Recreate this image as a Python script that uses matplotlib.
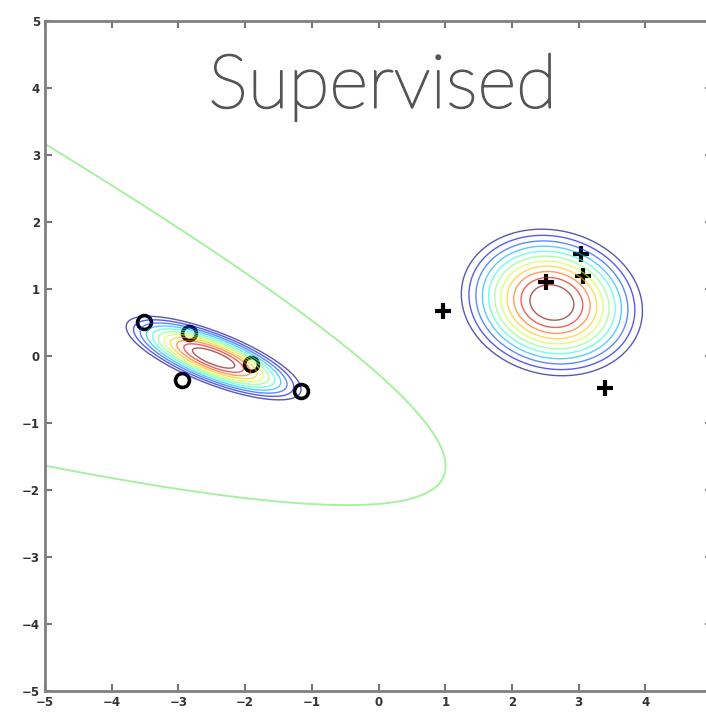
import numpy as np
import matplotlib
matplotlib.use('Agg')
import matplotlib.pyplot as plt
import matplotlib.patheffects as pe

# labelled points
circle_x = [-3.51, -2.84, -2.94, -1.91, -1.16]
circle_y = [0.51, 0.34, -0.36, -0.12, -0.52]
plus_x = [0.97, 2.51, 3.04, 3.07, 3.40]
plus_y = [0.67, 1.10, 1.52, 1.19, -0.48]
xticks = [-5, -4, -3, -2, -1, 0, 1, 2, 3, 4]
yticks = [-5, -4, -3, -2, -1, 0, 1, 2, 3, 4, 5]


def fit_gauss(xs, ys):
    pts = np.column_stack([xs, ys])
    return pts.mean(axis=0), np.cov(pts.T, bias=True)


def log_pdf(X, Y, mu, cov):
    inv = np.linalg.inv(cov)
    dx = X - mu[0]
    dy = Y - mu[1]
    d2 = inv[0, 0] * dx * dx + 2 * inv[0, 1] * dx * dy + inv[1, 1] * dy * dy
    return -0.5 * d2 - 0.5 * np.log(np.linalg.det(cov)) - np.log(2 * np.pi)


gx = np.linspace(-5, 5, 600)
X, Y = np.meshgrid(gx, gx)

mu1, cov1 = fit_gauss(circle_x, circle_y)
mu2, cov2 = fit_gauss(plus_x, plus_y)
lp1 = log_pdf(X, Y, mu1, cov1)
lp2 = log_pdf(X, Y, mu2, cov2)

fig = plt.figure(figsize=(7.06, 7.18), dpi=100)
ax = fig.add_axes([0.0637, 0.0376, 0.945, 0.933])

ax.plot(circle_x, circle_y, 'o', ms=10, mfc='none', mec='black', mew=2.6, zorder=2)
ax.plot(plus_x, plus_y, '+', ms=11, color='black', mew=3, zorder=2)

for lp in (lp1, lp2):
    p = np.exp(lp)
    levels = np.linspace(0.29, 0.93, 11) * p.max()
    ax.contour(X, Y, p, levels=levels, cmap='jet', linewidths=1.0,
               alpha=0.65, zorder=3)

# decision boundary where both class densities are equal
ax.contour(X, Y, lp1 - lp2, levels=[0], colors='#a8f0a0', linewidths=1.4)

ax.set_xlim(-5, 5)
ax.set_ylim(-5, 5)
ax.set_xticks(xticks)
ax.set_yticks(yticks)
ax.tick_params(direction='in', length=5, width=1.5, color='#777777',
               labelsize=8.5, labelcolor='#333333', top=True, right=True)
for lab in ax.get_xticklabels() + ax.get_yticklabels():
    lab.set_fontweight('bold')
for s in ax.spines.values():
    s.set_color('#808080')
    s.set_linewidth(2)

fig.text(0.542, 0.85, 'Supervised', ha='center', va='baseline',
         fontsize=54, color='#555555', family='Lato', fontweight='light',
         path_effects=[pe.withStroke(linewidth=1.3, foreground='#555555')])

fig.savefig('out.png', dpi=100)
